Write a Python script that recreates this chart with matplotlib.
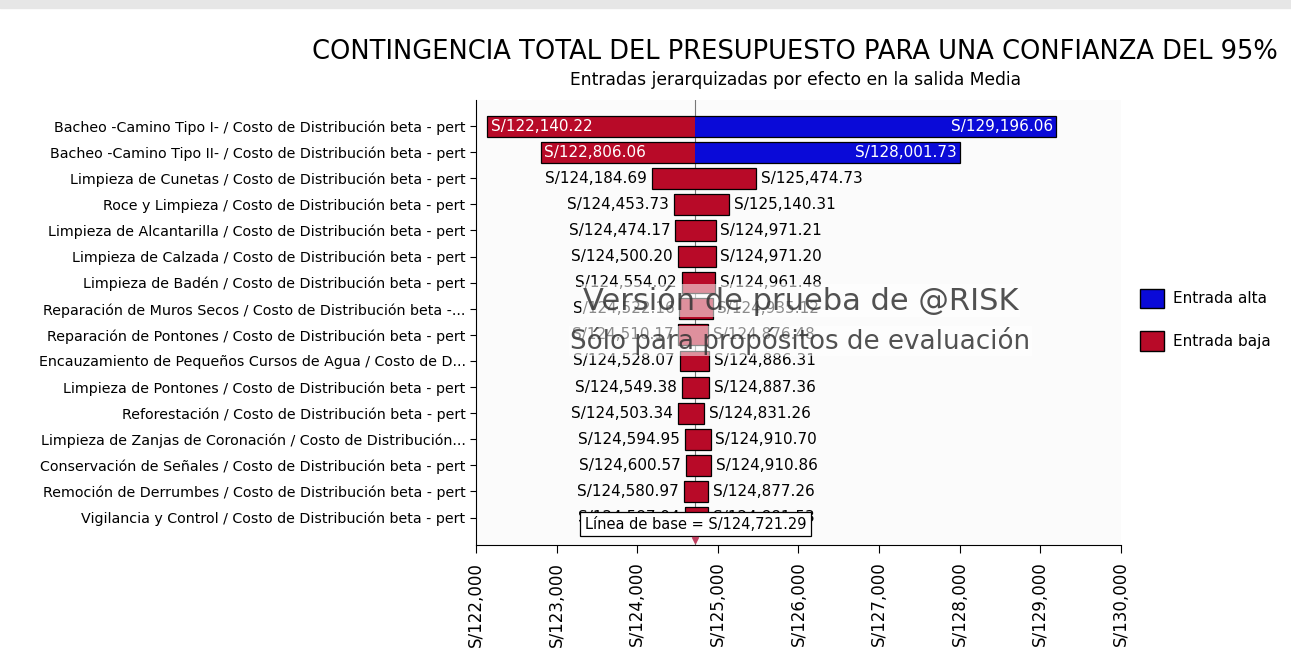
import numpy as np
from matplotlib import pyplot as plt
from matplotlib.patches import Patch, Rectangle

plt.rcParams.update({
    "font.size": 10,
    "font.family": ["DejaVu Sans"]})

#Inputs ranked by effect on the mean output
entradas = ["Bacheo -Camino Tipo I- / Costo de Distribución beta - pert",
            "Bacheo -Camino Tipo II- / Costo de Distribución beta - pert",
            "Limpieza de Cunetas / Costo de Distribución beta - pert",
            "Roce y Limpieza / Costo de Distribución beta - pert",
            "Limpieza de Alcantarilla / Costo de Distribución beta - pert",
            "Limpieza de Calzada / Costo de Distribución beta - pert",
            "Limpieza de Badén / Costo de Distribución beta - pert",
            "Reparación de Muros Secos / Costo de Distribución beta -...",
            "Reparación de Pontones / Costo de Distribución beta - pert",
            "Encauzamiento de Pequeños Cursos de Agua / Costo de D...",
            "Limpieza de Pontones / Costo de Distribución beta - pert",
            "Reforestación / Costo de Distribución beta - pert",
            "Limpieza de Zanjas de Coronación / Costo de Distribución...",
            "Conservación de Señales / Costo de Distribución beta - pert",
            "Remoción de Derrumbes / Costo de Distribución beta - pert",
            "Vigilancia y Control / Costo de Distribución beta - pert"]

bajo = [122140.22, 122806.06, 124184.69, 124453.73, 124474.17, 124500.20,
        124554.02, 124522.16, 124510.17, 124528.07, 124549.38, 124503.34,
        124594.95, 124600.57, 124580.97, 124587.94]
alto = [129196.06, 128001.73, 125474.73, 125140.31, 124971.21, 124971.20,
        124961.48, 124935.12, 124876.48, 124886.31, 124887.36, 124831.26,
        124910.70, 124910.86, 124877.26, 124881.53]
# colour of the right-hand part of each bar
lado_derecho = ["alta", "alta"] + ["baja"] * 14

base = 124721.29
xticks = np.arange(122000, 130001, 1000)

col = {"alta": "#0a0ad8", "baja": "#b80a28"}

fig = plt.figure(figsize=(12.91, 6.53), dpi=100)
fig.patches.append(Rectangle((0, 0.988), 1, 0.012, transform=fig.transFigure,
                             color="#e6e6e6", zorder=0))
ax = fig.add_axes([0.3687, 0.1654, 0.4996, 0.6815])
ax.set_facecolor("#fbfbfb")

y = np.arange(len(entradas))
h = 0.8
ax.axvline(base, color="#777777", lw=0.8, zorder=1)
for i in range(len(entradas)):
    ax.barh(y[i], base - bajo[i], left=bajo[i], height=h, color=col["baja"], lw=0, zorder=2)
    ax.barh(y[i], alto[i] - base, left=base, height=h, color=col[lado_derecho[i]], lw=0, zorder=2)
    ax.barh(y[i], alto[i] - bajo[i], left=bajo[i], height=h, fill=False,
            edgecolor="black", lw=0.9, zorder=3)
    lo = f"S/{bajo[i]:,.2f}"
    hi = f"S/{alto[i]:,.2f}"
    if base - bajo[i] > 1500:
        ax.text(bajo[i] + 40, y[i], lo, color="white", ha="left", va="center", fontsize=11, zorder=4)
        ax.text(alto[i] - 40, y[i], hi, color="white", ha="right", va="center", fontsize=11, zorder=4)
    else:
        ax.text(bajo[i] - 60, y[i], lo, color="black", ha="right", va="center", fontsize=11, zorder=4)
        ax.text(alto[i] + 60, y[i], hi, color="black", ha="left", va="center", fontsize=11, zorder=4)

ax.set_xlim(122000, 130000)
ax.set_ylim(16.05, -1.0)
ax.set_yticks(y)
ax.set_yticklabels(entradas, fontsize=10.3)
ax.set_xticks(xticks)
ax.set_xticklabels([f"S/{v:,.0f}" for v in xticks], rotation=90, fontsize=12)
ax.tick_params(axis="x", length=6, pad=6)
ax.tick_params(axis="y", length=4)
ax.spines["top"].set_visible(False)
ax.spines["right"].set_visible(False)

#baseline box and marker
ax.text(base, 15.25, f"Línea de base = S/{base:,.2f}", ha="center", va="center", fontsize=10.5,
        bbox=dict(boxstyle="square,pad=0.3", fc="white", ec="black", lw=0.9), zorder=6)
ax.plot([base], [15.85], marker="v", color="#c04060", ms=5, clip_on=False, zorder=6)

fig.text(0.616, 0.920, "CONTINGENCIA TOTAL DEL PRESUPUESTO PARA UNA CONFIANZA DEL 95%",
         ha="center", va="center", fontsize=18.5)
fig.text(0.616, 0.877, "Entradas jerarquizadas por efecto en la salida Media",
         ha="center", va="center", fontsize=12.3)

#trial version watermark
fig.text(0.62, 0.540, "Versión de prueba de @RISK", ha="center", va="center",
         fontsize=22, color="#333333", alpha=0.85, zorder=10,
         bbox=dict(fc="white", ec="none", alpha=0.55, pad=1))
fig.text(0.62, 0.478, "Sólo para propósitos de evaluación", ha="center", va="center",
         fontsize=18.8, color="#333333", alpha=0.85, zorder=10,
         bbox=dict(fc="white", ec="none", alpha=0.55, pad=1))

handles = [Patch(fc=col["alta"], ec="black", label="Entrada alta"),
           Patch(fc=col["baja"], ec="black", label="Entrada baja")]
fig.legend(handles=handles, loc="upper left", bbox_to_anchor=(0.872, 0.579), frameon=False,
           fontsize=11, handlelength=1.6, handleheight=1.6, labelspacing=1.5, handletextpad=0.6)

fig.savefig("out.png", dpi=100)
